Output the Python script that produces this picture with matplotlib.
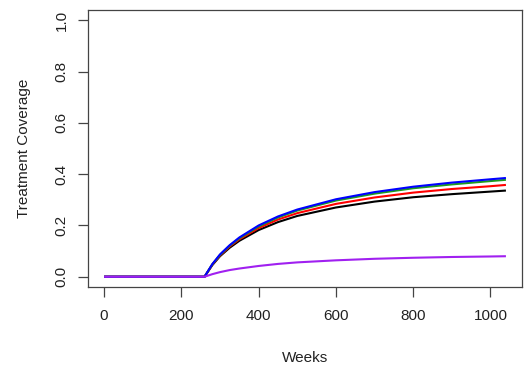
import matplotlib
matplotlib.use("Agg")
import matplotlib.pyplot as plt

weeks = [0, 260, 280, 300, 325, 350, 400, 450, 500, 600, 700, 800, 900, 1000, 1040]
black = [0, 0, 0.045, 0.080, 0.113, 0.140, 0.182, 0.213, 0.237, 0.270, 0.293, 0.310, 0.322, 0.332, 0.336]
red = [0, 0, 0.047, 0.083, 0.118, 0.146, 0.190, 0.223, 0.248, 0.284, 0.309, 0.328, 0.342, 0.353, 0.358]
green = [0, 0, 0.048, 0.085, 0.121, 0.150, 0.196, 0.231, 0.258, 0.297, 0.324, 0.345, 0.360, 0.373, 0.378]
blue = [0, 0, 0.049, 0.087, 0.123, 0.153, 0.200, 0.235, 0.262, 0.302, 0.330, 0.351, 0.367, 0.380, 0.385]
purple = [0, 0, 0.010, 0.018, 0.026, 0.032, 0.042, 0.050, 0.056, 0.064, 0.070, 0.074, 0.077, 0.079, 0.080]

series = [(black, "#000000"), (red, "#FF0000"), (green, "#1E9B1E"), (blue, "#0000FF"), (purple, "#A020F0")]

plt.rcParams['font.family'] = ['Liberation Sans', 'DejaVu Sans']
fig = plt.figure(figsize=(5.24, 3.70), dpi=100)
ax = fig.add_axes([88/524, 83/370, (522-88)/524, (287-10)/370])

for vals, c in series:
    ax.plot(weeks, vals, color=c, lw=1.5, solid_capstyle='butt')

ax.set_xlim(-41.6, 1081.6)
ax.set_ylim(-0.04, 1.04)
ax.set_xticks([0, 200, 400, 600, 800, 1000])
ax.set_yticks([0.0, 0.2, 0.4, 0.6, 0.8, 1.0])
ax.set_yticklabels(["0.0", "0.2", "0.4", "0.6", "0.8", "1.0"], rotation=90, va='center')
ax.tick_params(axis='both', length=7, width=0.9, colors='#444444', labelcolor='#222222', labelsize=11)
ax.tick_params(axis='x', pad=9)
ax.tick_params(axis='y', pad=7)
for s in ax.spines.values():
    s.set_color('#444444')
    s.set_linewidth(0.9)
ax.set_xlabel("Weeks", fontsize=11, color='#222222', labelpad=20)
ax.set_ylabel("Treatment Coverage", fontsize=11, color='#222222', labelpad=17)

fig.savefig("out.png", dpi=100)
